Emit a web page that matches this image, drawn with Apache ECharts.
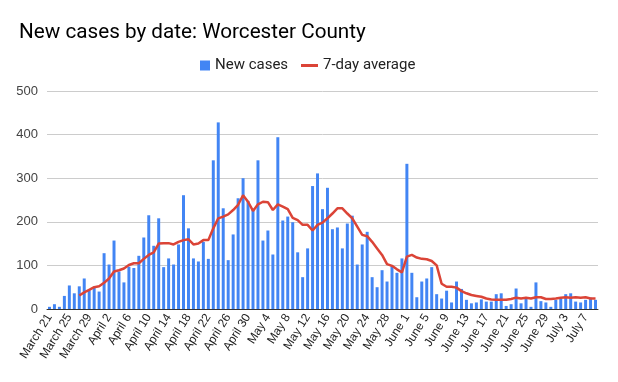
<!DOCTYPE html>
<html>
<head>
<meta charset="utf-8">
<script src="https://cdn.jsdelivr.net/npm/echarts@6/dist/echarts.min.js"></script>
<style>
html,body{margin:0;padding:0;background:#fff;}
#chart{width:618px;height:382px;}
</style>
</head>
<body>
<div id="chart"></div>
<script>
var categories = [
 'March 21','March 22','March 23','March 24','March 25','March 26','March 27','March 28','March 29','March 30','March 31',
 'April 1','April 2','April 3','April 4','April 5','April 6','April 7','April 8','April 9','April 10',
 'April 11','April 12','April 13','April 14','April 15','April 16','April 17','April 18','April 19','April 20',
 'April 21','April 22','April 23','April 24','April 25','April 26','April 27','April 28','April 29','April 30',
 'May 1','May 2','May 3','May 4','May 5','May 6','May 7','May 8','May 9','May 10',
 'May 11','May 12','May 13','May 14','May 15','May 16','May 17','May 18','May 19','May 20',
 'May 21','May 22','May 23','May 24','May 25','May 26','May 27','May 28','May 29','May 30','May 31',
 'June 1','June 2','June 3','June 4','June 5','June 6','June 7','June 8','June 9','June 10',
 'June 11','June 12','June 13','June 14','June 15','June 16','June 17','June 18','June 19','June 20',
 'June 21','June 22','June 23','June 24','June 25','June 26','June 27','June 28','June 29','June 30',
 'July 1','July 2','July 3','July 4','July 5','July 6','July 7','July 8','July 9'
];
var newCases = [
 5,11,5,30,54,36,52,70,43,50,40,
 128,102,157,86,61,97,94,122,164,215,
 145,208,96,116,102,148,261,185,116,109,
 154,115,341,428,231,112,171,254,300,248,
 228,341,157,180,125,394,203,212,199,130,
 73,139,282,311,229,278,183,187,139,196,
 214,102,148,177,73,50,89,63,99,83,116,
 333,83,27,63,70,96,34,24,42,15,
 63,46,21,13,15,22,17,17,34,36,
 7,11,47,13,24,5,61,18,15,5,
 21,24,34,36,17,15,21,26,21
];
var sevenDayAvg = [
 null,null,null,null,null,null,31,38,44,50,52,
 60,70,86,89,93,101,105,105,115,124,
 130,150,151,151,148,154,158,160,148,150,
 158,158,185,208,212,217,227,239,261,246,
 225,240,246,245,227,240,235,229,209,204,
 193,193,180,193,198,208,219,231,231,219,
 208,189,170,167,154,139,124,103,99,91,84,
 120,124,118,115,114,110,100,58,51,51,
 49,41,36,32,30,28,24,22,21,21,
 21,23,26,24,26,24,27,27,23,23,
 24,26,27,26,27,26,27,24,24
];
var yTicks = [0,100,200,300,400,500];
var titleText = 'New cases by date: Worcester County';
var seriesNames = ['New cases','7-day average'];

var chart = echarts.init(document.getElementById('chart'), null, {renderer:'canvas'});
chart.setOption({
  animation:false,
  backgroundColor:'#ffffff',
  title:{
    text:titleText, left:19, top:22, padding:0,
    textStyle:{fontFamily:'Roboto', fontSize:20.7, fontWeight:'normal', color:'#000'}
  },
  legend:[
    {data:[{name:seriesNames[0], icon:'rect'}], left:200, top:58, padding:0, itemWidth:10, itemHeight:10, itemGap:0,
     textStyle:{fontFamily:'Roboto', fontSize:15, color:'#222'}},
    {data:[{name:seriesNames[1], icon:'rect'}], left:301, top:58, padding:0, itemWidth:17, itemHeight:3, itemGap:0,
     textStyle:{fontFamily:'Roboto', fontSize:15, color:'#222'}}
  ],
  grid:{left:47, right:20, top:91, bottom:73, containLabel:false},
  xAxis:{
    type:'category', data:categories, boundaryGap:true,
    axisLine:{lineStyle:{color:'#333', width:1}},
    axisTick:{show:false},
    axisLabel:{interval:3, rotate:58, margin:6, fontFamily:'Liberation Sans', fontSize:12, color:'#222'}
  },
  yAxis:{
    type:'value', min:yTicks[0], max:yTicks[yTicks.length-1], interval:100,
    axisLine:{show:false}, axisTick:{show:false},
    splitLine:{lineStyle:{color:'#cccccc', width:1}},
    axisLabel:{margin:9, fontFamily:'Liberation Sans', fontSize:13, color:'#444'}
  },
  series:[
    {name:seriesNames[0], type:'bar', data:newCases, barCategoryGap:'40%',
     itemStyle:{color:'#4285f4'}},
    {name:seriesNames[1], type:'line', data:sevenDayAvg, showSymbol:false, symbol:'none',
     itemStyle:{color:'#db4437'}, lineStyle:{color:'#db4437', width:2.5}, z:5}
  ]
});
</script>
</body>
</html>
